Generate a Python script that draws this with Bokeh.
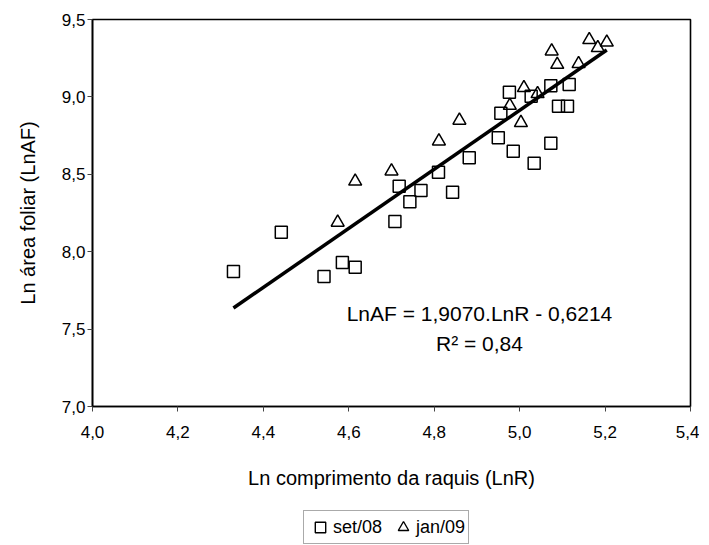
from bokeh.plotting import figure
from bokeh.layouts import column
from bokeh.models import Label, Legend, LegendItem, Range1d, FixedTicker
from bokeh.embed import file_html
from bokeh.resources import INLINE

# set/08 (squares)
set08_lnr = [4.330, 4.442, 4.542, 4.585, 4.615, 4.708, 4.718, 4.743, 4.769, 4.810,
             4.843, 4.882, 4.950, 4.956, 4.976, 4.985, 5.027, 5.034, 5.073, 5.073,
             5.091, 5.112, 5.116]
set08_lnaf = [7.872, 8.126, 7.840, 7.930, 7.900, 8.195, 8.423, 8.322, 8.395, 8.514,
              8.384, 8.607, 8.736, 8.895, 9.030, 8.649, 9.005, 8.572, 8.701, 9.072,
              8.940, 8.940, 9.080]
# jan/09 (triangles)
jan09_lnr = [4.574, 4.615, 4.700, 4.811, 4.859, 4.977, 5.003, 5.010, 5.042, 5.075,
             5.088, 5.138, 5.163, 5.183, 5.204]
jan09_lnaf = [8.189, 8.455, 8.520, 8.714, 8.848, 8.944, 8.833, 9.059, 9.020, 9.295,
              9.209, 9.214, 9.369, 9.317, 9.353]

# regression
slope = 1.9070
intercept = -0.6214
equation_text = "LnAF = 1,9070.LnR - 0,6214"
r2_text = "R\u00b2 = 0,84"

x_ticks = [4.0, 4.2, 4.4, 4.6, 4.8, 5.0, 5.2, 5.4]
x_tick_labels = ["4,0", "4,2", "4,4", "4,6", "4,8", "5,0", "5,2", "5,4"]
y_ticks = [7.0, 7.5, 8.0, 8.5, 9.0, 9.5]
y_tick_labels = ["7,0", "7,5", "8,0", "8,5", "9,0", "9,5"]
series_labels = ["set/08", "jan/09"]

FONT = "Liberation Sans"
LEFT, RIGHT, TOP = 92, 9, 19
FW, FH = 598, 387
MAIN_BOTTOM = 100
W = LEFT + FW + RIGHT

p = figure(frame_width=FW, frame_height=FH,
           x_range=Range1d(4.0, 5.4), y_range=Range1d(7.0, 9.5),
           output_backend="svg", toolbar_location=None,
           min_border_left=LEFT, min_border_right=RIGHT, min_border_top=TOP,
           min_border_bottom=MAIN_BOTTOM)
p.background_fill_color = "white"
p.border_fill_color = "white"
p.outline_line_color = "black"
p.outline_line_width = 1.6
p.xgrid.visible = False
p.ygrid.visible = False

for ax, ticks, labels in ((p.xaxis[0], x_ticks, x_tick_labels), (p.yaxis[0], y_ticks, y_tick_labels)):
    ax.ticker = FixedTicker(ticks=ticks)
    ax.major_label_overrides = {t: l for t, l in zip(ticks, labels)}
    ax.minor_tick_line_color = None
    ax.major_tick_in = 0
    ax.major_tick_out = 5
    ax.major_tick_line_color = "#444444"
    ax.axis_line_color = "black"
    ax.axis_line_width = 1.6
    ax.major_label_text_font = FONT
    ax.major_label_text_font_size = "17px"
    ax.major_label_text_color = "black"
    ax.axis_label_text_font = FONT
    ax.axis_label_text_font_size = "20px"
    ax.axis_label_text_font_style = "normal"
    ax.axis_label_text_color = "black"

p.xaxis.axis_label = "Ln comprimento da raquis (LnR)"
p.yaxis.axis_label = "Ln \u00e1rea foliar (LnAF)"
p.xaxis.major_label_standoff = 14
p.xaxis.axis_label_standoff = 26
p.yaxis.major_label_standoff = 2
p.yaxis.axis_label_standoff = 20

x_fit = [min(set08_lnr + jan09_lnr), max(set08_lnr + jan09_lnr)]
y_fit = [slope * x + intercept for x in x_fit]
p.line(x_fit, y_fit, line_color="black", line_width=3.5)

p.scatter(set08_lnr, set08_lnaf, marker="square", size=12,
          fill_alpha=0, line_color="black", line_width=1.5)
p.scatter(jan09_lnr, jan09_lnaf, marker="triangle", size=13,
          fill_alpha=0, line_color="black", line_width=1.5)

p.add_layout(Label(x=4.906, y=7.60, text=equation_text, text_align="center",
                   text_baseline="middle", text_font=FONT, text_font_size="21px",
                   text_color="black"))
p.add_layout(Label(x=4.906, y=7.405, text=r2_text, text_align="center",
                   text_baseline="middle", text_font=FONT, text_font_size="21px",
                   text_color="black"))

# legend strip below the chart (its frame is aligned with the main frame)
LH = 545 - (TOP + FH + MAIN_BOTTOM)
lg = figure(width=W, height=LH, x_axis_type=None, y_axis_type=None,
            x_range=Range1d(0, 1), y_range=Range1d(0, 1),
            output_backend="svg", toolbar_location=None,
            min_border=0, outline_line_color=None)
lg.grid.visible = False
# same series, out of this strip's view: only their legend glyphs show
l1 = lg.scatter(set08_lnr, set08_lnaf, marker="square", size=10,
                fill_alpha=0, line_color="black", line_width=1.4)
l2 = lg.scatter(jan09_lnr, jan09_lnaf, marker="triangle", size=12,
                fill_alpha=0, line_color="black", line_width=1.4)
legend = Legend(items=[LegendItem(label=series_labels[0], renderers=[l1]),
                       LegendItem(label=series_labels[1], renderers=[l2])],
                orientation="horizontal", location=(303 - LEFT, 1))
legend.label_text_font = FONT
legend.label_text_font_size = "18px"
legend.label_text_color = "black"
legend.border_line_color = "#555555"
legend.border_line_width = 1
legend.background_fill_color = "white"
legend.padding = 3
legend.spacing = 8
legend.glyph_width = 26
legend.glyph_height = 26
legend.label_standoff = 0
legend.label_height = 18
legend.margin = 0
lg.add_layout(legend, "center")

open("out.html", "w").write(file_html(column(p, lg, spacing=0), INLINE))
